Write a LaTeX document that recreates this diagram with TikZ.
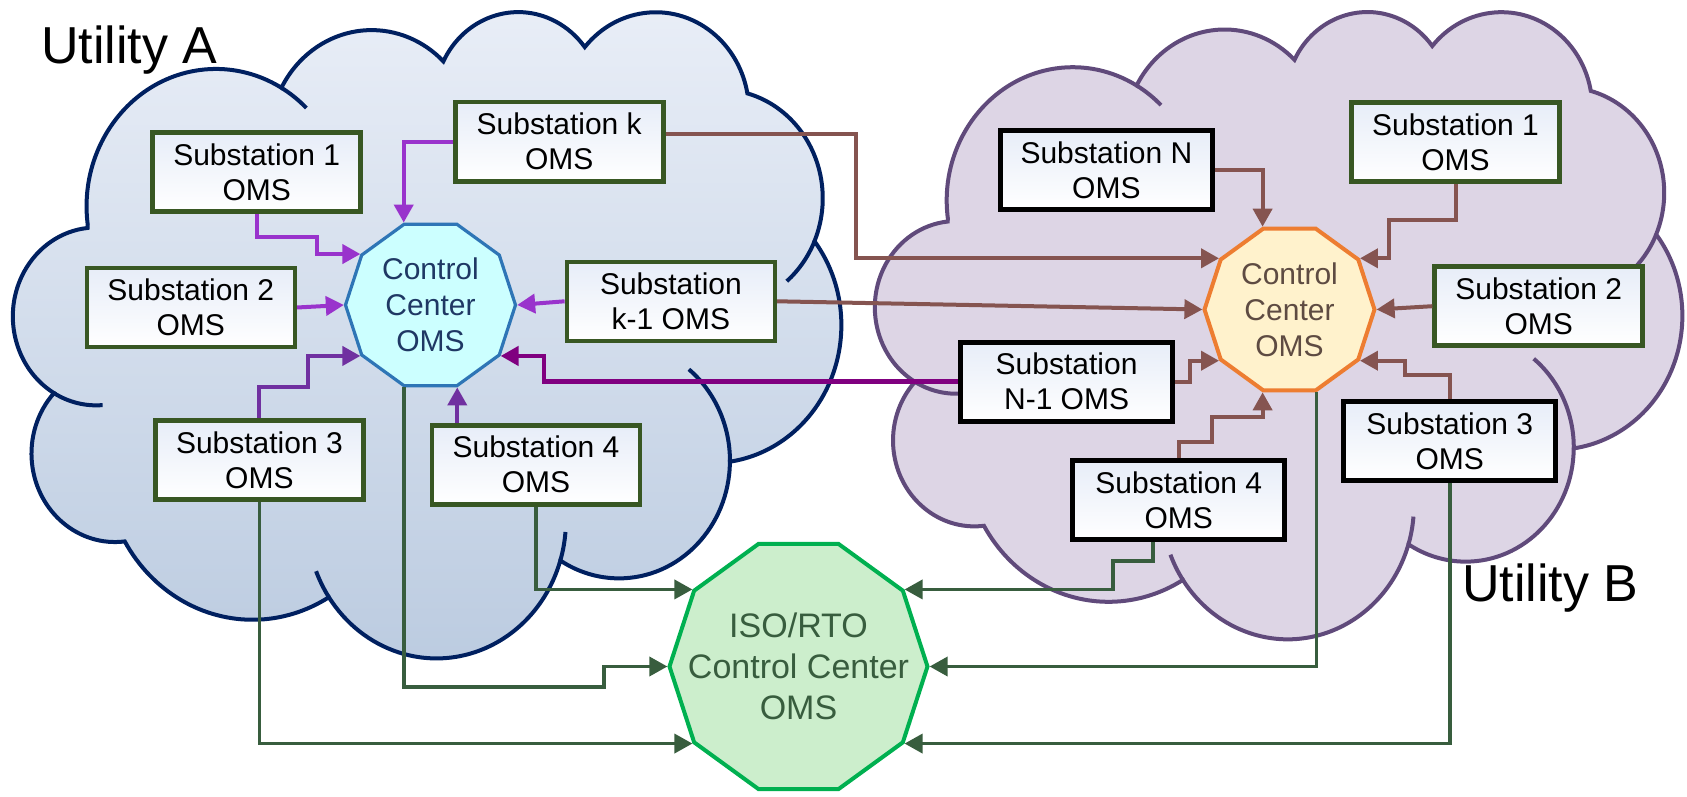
\documentclass[tikz,border=0pt]{standalone}
\usepackage{fontspec}
\setmainfont{Liberation Sans}
\usepackage{tikz}
\usetikzlibrary{arrows.meta,shapes.geometric}
\definecolor{cloudaline}{RGB}{0,32,96}
\definecolor{cloudatop}{RGB}{233,238,247}
\definecolor{cloudabot}{RGB}{187,203,224}
\definecolor{cloudbline}{RGB}{96,74,123}
\definecolor{cloudbfill}{RGB}{221,213,229}
\definecolor{omsgreen}{RGB}{56,87,35}
\definecolor{omstop}{RGB}{231,237,248}
\definecolor{ccaline}{RGB}{46,117,182}
\definecolor{ccafill}{RGB}{204,255,255}
\definecolor{ccatext}{RGB}{31,56,100}
\definecolor{ccbline}{RGB}{237,125,49}
\definecolor{ccbfill}{RGB}{255,242,204}
\definecolor{ccbtext}{RGB}{94,75,66}
\definecolor{isoline}{RGB}{0,176,80}
\definecolor{isofill}{RGB}{204,238,204}
\definecolor{isotext}{RGB}{56,93,62}
\definecolor{linkpurple}{RGB}{153,51,204}
\definecolor{linkviolet}{RGB}{112,48,160}
\definecolor{linkplum}{RGB}{128,0,128}
\definecolor{linkbrown}{RGB}{133,84,80}
\definecolor{linkgreen}{RGB}{56,93,62}

\newcommand{\cloudoutline}{(39,143.7)
  arc[start angle=-187.75,end angle=-59.64,x radius=67.53,y radius=91.9]
  arc[start angle=-152.02,end angle=-45.45,x radius=53.33,y radius=72.67]
  arc[start angle=-153.49,end angle=-37.33,x radius=43.65,y radius=59.45]
  arc[start angle=-139.71,end angle=-10.21,x radius=48.57,y radius=65.95]
  arc[start angle=-74.77,end angle=23.21,x radius=53.33,y radius=72.73]
  arc[start angle=-37.54,end angle=81.86,x radius=67.75,y radius=92.2]
  arc[start angle=0.46,end angle=121.98,x radius=57.85,y radius=78.67]
  arc[start angle=16.84,end angle=146.22,x radius=67.52,y radius=92.15]
  arc[start angle=58.98,end angle=149.79,x radius=77.2,y radius=105.43]
  arc[start angle=83.31,end angle=223.09,x radius=43.6,y radius=59.18]
  arc[start angle=120.36,end angle=264.11,x radius=43.45,y radius=59.45]
  -- cycle}
\newcommand{\cloudfolds}{(46.75,264.2)
  arc[start angle=85.54,end angle=120.36,x radius=43.45,y radius=59.45]
  (164.83,392.71) arc[start angle=146.22,end angle=158.47,x radius=67.52,y radius=92.15]
  (288.24,349.06) arc[start angle=4.74,end angle=16.84,x radius=67.52,y radius=92.15]
  (352.62,240.28) arc[start angle=-51,end angle=0.46,x radius=57.85,y radius=78.67]
  (418.19,154.61) arc[start angle=23.21,end angle=49.64,x radius=53.33,y radius=72.73]
  (140.05,52.02) arc[start angle=-59.64,end angle=-45.73,x radius=67.53,y radius=91.9]}

\begin{document}
\begin{tikzpicture}[
  x=0.5pt, y=-0.5pt,
  every node/.style={font=\fontsize{15}{17.5}\selectfont},
  oms/.style={draw=omsgreen, line width=2.3pt, top color=omstop, bottom color=white,
    minimum width=104pt, minimum height=39.5pt, inner sep=1pt, align=center},
  omsdark/.style={oms, draw=black, minimum width=106pt, line width=2.5pt},
  hub/.style={regular polygon, regular polygon sides=10, minimum size=85pt,
    inner sep=-30pt, align=center, font=\fontsize{15}{18}\selectfont},
  link/.style={line width=2pt, -{Triangle[length=9pt,width=9.5pt]}},
  inA/.style={link, draw=linkpurple},
  inAdark/.style={link, draw=linkviolet},
  inAfar/.style={link, draw=linkplum, line width=2.3pt},
  inB/.style={link, draw=linkbrown},
  toiso/.style={link, draw=linkgreen, line width=1.8pt},
  util/.style={anchor=base west, font=\fontsize{26}{30}\selectfont}
]
\useasboundingbox (0,0) rectangle (1687,797);

\begin{scope}[shift={(13,10)}, x=0.95833pt, y=-0.74769pt]
  \path[draw=cloudaline, line width=2pt, top color=cloudatop, bottom color=cloudabot] \cloudoutline;
  \draw[cloudaline, line width=2pt] \cloudfolds;
\end{scope}
\begin{scope}[shift={(875,10)}, x=0.93403pt, y=-0.72569pt]
  \path[draw=cloudbline, line width=2pt, fill=cloudbfill] \cloudoutline;
  \draw[cloudbline, line width=2pt] \cloudfolds;
\end{scope}

\node[oms] (sub1a) at (256.7,172) {Substation 1\\OMS};
\node[oms] (subka) at (559.2,141.7) {Substation k\\OMS};
\node[oms] (sub2a) at (190.8,307.5) {Substation 2\\OMS};
\node[oms] (subk1a) at (670.9,301.3) {Substation\\k-1 OMS};
\node[oms] (sub3a) at (259.4,460) {Substation 3\\OMS};
\node[oms] (sub4a) at (536,464.7) {Substation 4\\OMS};
\node[hub, draw=ccaline, line width=1.6pt, fill=ccafill, text=ccatext] (cca) at (430.5,305) {Control\\Center\\OMS};

\node[omsdark] (subnb) at (1106.4,170) {Substation N\\OMS};
\node[oms] (sub1b) at (1455.5,142.2) {Substation 1\\OMS};
\node[oms] (sub2b) at (1538.7,306.2) {Substation 2\\OMS};
\node[omsdark] (subn1b) at (1066.6,381.7) {Substation\\N-1 OMS};
\node[omsdark] (sub3b) at (1449.8,440.8) {Substation 3\\OMS};
\node[omsdark] (sub4b) at (1178.8,500.3) {Substation 4\\OMS};
\node[hub, draw=ccbline, line width=2pt, fill=ccbfill, text=ccbtext] (ccb) at (1289.5,309.5) {Control\\Center\\OMS};

\node[hub, minimum size=129pt, draw=isoline, line width=2pt, fill=isofill, text=isotext,
  font=\fontsize{17}{20.5}\selectfont] (iso) at (798.5,666.5) {ISO/RTO\\Control Center\\OMS};

\node[util] (utila) at (34,64) {Utility A};
\node[util] (utilb) at (1455,601) {Utility B};

\draw[inA] (sub1a.south) |- (317,237) |- (cca.144);
\draw[inA] (sub2a.east) -- (cca.180);
\draw[inA] (subka.west) -| (cca.108);
\draw[inA] (subk1a.west) -- (cca.0);
\draw[inAdark] (sub3a.north) |- (308,387) |- (cca.216);
\draw[inAdark] (sub4a.north -| cca.288) -- (cca.288);
\draw[inAfar] (subn1b.west) -| (544,370) |- (cca.324);

\draw[inB] (subnb.east) -| (ccb.108);
\draw[inB] (sub1b.south) |- (1389,220) |- (ccb.36);
\draw[inB] ([yshift=4pt]subka.east) -| (856,250) |- (ccb.144);
\draw[inB] (subk1a.east) -- (ccb.180);
\draw[inB] (sub2b.west) -- (ccb.0);
\draw[inB] (subn1b.east) -| (1190,370) |- (ccb.216);
\draw[inB] (sub4b.north) |- (1212,442) |- (1250,417) -| (ccb.252);
\draw[inB] (sub3b.north) |- (1405,375) |- (ccb.324);

\draw[toiso] (sub4a.south) |- (iso.144);
\draw[toiso] (cca.252) |- (604,687) |- (iso.180);
\draw[toiso] (sub3a.south) |- (iso.216);
\draw[toiso] ([xshift=-13pt]sub4b.south) |- (1113,561) |- (iso.36);
\draw[toiso] (ccb.288) |- (iso.0);
\draw[toiso] (sub3b.south) |- (iso.324);
\end{tikzpicture}
\end{document}
